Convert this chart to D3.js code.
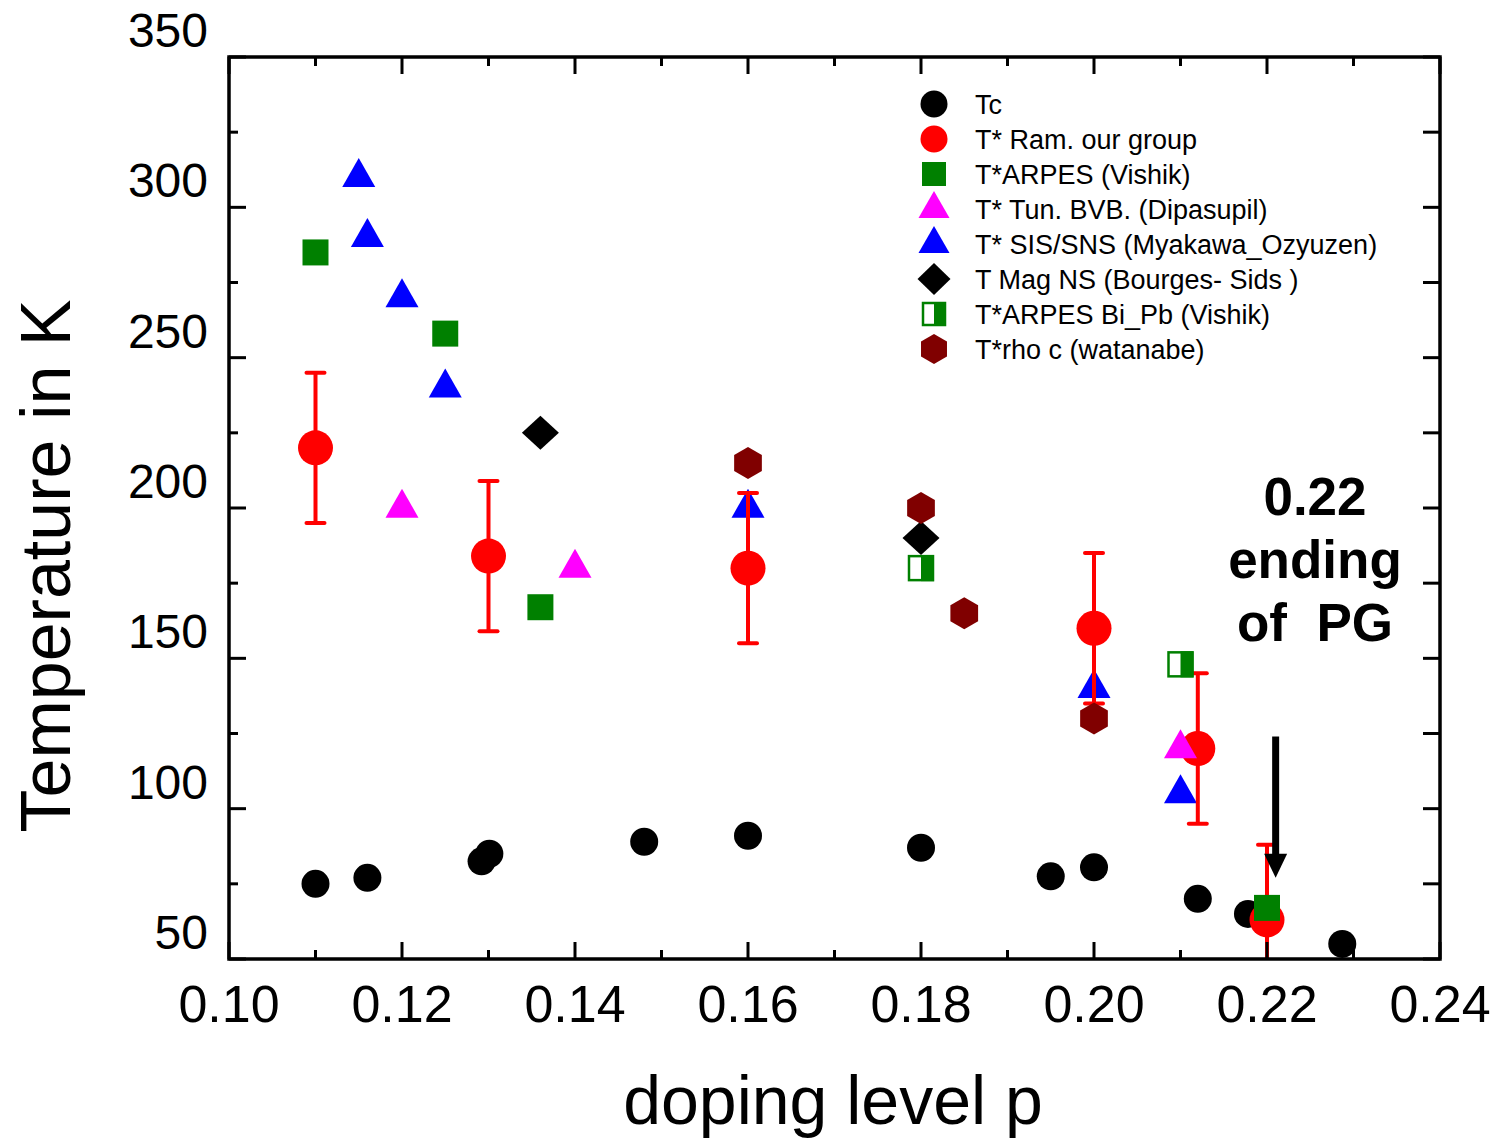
<!DOCTYPE html>
<html><head><meta charset="utf-8">
<script src="https://cdn.jsdelivr.net/npm/d3@7"></script>
<style>html,body{margin:0;padding:0;background:#fff;}svg{display:block;}</style>
</head><body>
<script>
// ---- data ----
const tcP   = [0.11, 0.116, 0.1292, 0.1301, 0.148, 0.16, 0.18, 0.195, 0.20, 0.212, 0.2178, 0.2287];
const tcT   = [75, 77, 82.5, 85, 89, 91, 87, 77.5, 80.5, 70, 65, 55];
const ramP  = [0.11, 0.13, 0.16, 0.20, 0.212, 0.22];
const ramT  = [220, 184, 180, 160, 120, 63];
const ramErr= [25, 25, 25, 25, 25, 25];
const arpesP = [0.11, 0.125, 0.136, 0.22];
const arpesT = [285, 258, 167, 67];
const tunP = [0.12, 0.14, 0.21];
const tunT = [200, 180, 120];
const sisP = [0.115, 0.116, 0.12, 0.125, 0.16, 0.20, 0.21];
const sisT = [310, 290, 270, 240, 200, 140, 105];
const magP = [0.136, 0.18];
const magT = [225, 190];
const biPbP = [0.18, 0.21];
const biPbT = [180, 148];
const rhoP = [0.16, 0.18, 0.185, 0.20];
const rhoT = [215, 200, 165, 130];
const xTickVals = [0.10, 0.12, 0.14, 0.16, 0.18, 0.20, 0.22, 0.24];
const xTickLabels = ["0.10","0.12","0.14","0.16","0.18","0.20","0.22","0.24"];
const yTickVals = [50, 100, 150, 200, 250, 300, 350];
const yTickLabels = ["50","100","150","200","250","300","350"];
const legendLabels = ["Tc","T* Ram. our group","T*ARPES (Vishik)","T* Tun. BVB. (Dipasupil)",
  "T* SIS/SNS (Myakawa_Ozyuzen)","T Mag NS (Bourges- Sids )","T*ARPES Bi_Pb (Vishik)","T*rho c (watanabe)"];
const annotLines = ["0.22","ending","of\u00a0\u00a0PG"];
const arrowP = 0.221, arrowFrom = 124, arrowTo = 77;

// ---- layout ----
const W = 1500, H = 1140;
const L = 229, R = 1440, T = 57, B = 959;
const FONT = "'Liberation Sans', Arial, sans-serif";
const svg = d3.select("body").append("svg").attr("width", W).attr("height", H);
const x = d3.scaleLinear().domain([0.10, 0.24]).range([L, R]);
const y = d3.scaleLinear().domain([50, 350]).range([B, T]);

svg.append("defs").append("clipPath").attr("id","clip")
  .append("rect").attr("x",L).attr("y",T).attr("width",R-L).attr("height",B-T);

// shapes
const shapes = {
  circle: (s)=>`M${-s},0A${s},${s} 0 1,0 ${s},0A${s},${s} 0 1,0 ${-s},0Z`,
  square: (s)=>`M${-s},${-s}H${s}V${s}H${-s}Z`,
  triangle: (w,h)=>`M0,${-2*h/3}L${w/2},${h/3}L${-w/2},${h/3}Z`,
  diamond: (w,h)=>`M0,${-h/2}L${w/2},0L0,${h/2}L${-w/2},0Z`,
  hex: (r)=>{const pts=d3.range(6).map(i=>{const a=Math.PI/3*i - Math.PI/2;return [r*Math.cos(a), r*Math.sin(a)];});return "M"+pts.map(p=>p.join(",")).join("L")+"Z";}
};

const plot = svg.append("g").attr("clip-path","url(#clip)");

function drawSeries(P, Tv, pathStr, fill) {
  const g = plot.append("g");
  P.forEach((p,i)=>{
    g.append("path").attr("d", pathStr)
      .attr("transform", `translate(${x(p)},${y(Tv[i])})`).attr("fill", fill);
  });
  return g;
}
function drawHalf(g, cx, cy, s) {
  g.append("rect").attr("x",cx-s+1).attr("y",cy-s+1).attr("width",2*s-2).attr("height",2*s-2)
    .attr("fill","#fff").attr("stroke","#008000").attr("stroke-width",2.5);
  g.append("rect").attr("x",cx).attr("y",cy-s).attr("width",s).attr("height",2*s).attr("fill","#008000");
}

// Tc
drawSeries(tcP, tcT, shapes.circle(14), "#000");
// Ram circles
drawSeries(ramP, ramT, shapes.circle(17.5), "#ff0000");
// SIS blue triangles
drawSeries(sisP, sisT, shapes.triangle(33,29), "#0000ff");
// Error bars
const eg = plot.append("g").attr("stroke","#ff0000").attr("stroke-width",4).attr("stroke-linecap","round");
ramP.forEach((p,i)=>{
  const cx = x(p), y1 = y(ramT[i]+ramErr[i]), y2 = y(ramT[i]-ramErr[i]);
  eg.append("line").attr("x1",cx).attr("x2",cx).attr("y1",y1).attr("y2",y2).attr("stroke-linecap","butt");
  [y1,y2].forEach(yy=>eg.append("line").attr("x1",cx-9).attr("x2",cx+9).attr("y1",yy).attr("y2",yy));
});
// ARPES green squares
drawSeries(arpesP, arpesT, shapes.square(13), "#008000");
// Tun magenta triangles
drawSeries(tunP, tunT, shapes.triangle(33,29), "#ff00ff");
// Mag NS diamonds
drawSeries(magP, magT, shapes.diamond(37,34), "#000");
// Bi_Pb half squares
const hg = plot.append("g");
biPbP.forEach((p,i)=>drawHalf(hg, x(p), y(biPbT[i]), 13));
// rho c hexagons
drawSeries(rhoP, rhoT, shapes.hex(16), "#800000");

// Arrow
const ax = x(arrowP);
svg.append("line").attr("x1",ax).attr("x2",ax).attr("y1",y(arrowFrom)).attr("y2",y(arrowTo)-22)
  .attr("stroke","#000").attr("stroke-width",7);
svg.append("path").attr("d",`M${ax-11.5},${y(arrowTo)-24}L${ax+11.5},${y(arrowTo)-24}L${ax},${y(arrowTo)}Z`).attr("fill","#000");

// Annotation text
const at = svg.append("text").attr("font-family",FONT).attr("font-weight","bold").attr("font-size",53)
  .attr("text-anchor","middle").attr("fill","#000");
annotLines.forEach((t,i)=>at.append("tspan").attr("x",1315).attr("y",515+63*i).text(t));

// Axes frame
const axG = svg.append("g");
axG.append("rect").attr("x",L).attr("y",T).attr("width",R-L).attr("height",B-T)
  .attr("fill","none").attr("stroke","#000").attr("stroke-width",3.5);

// ticks (inward)
const tickG = axG.append("g").attr("stroke","#000").attr("stroke-width",3);
d3.range(0.10, 0.2401, 0.01).forEach((v,i)=>{
  const major = i%2===0, len = major?17:9, px = x(v);
  tickG.append("line").attr("x1",px).attr("x2",px).attr("y1",B).attr("y2",B-len);
  tickG.append("line").attr("x1",px).attr("x2",px).attr("y1",T).attr("y2",T+len);
});
d3.range(50, 351, 25).forEach((v,i)=>{
  const major = i%2===0, len = major?17:9, py = y(v);
  tickG.append("line").attr("x1",L).attr("x2",L+len).attr("y1",py).attr("y2",py);
  tickG.append("line").attr("x1",R).attr("x2",R-17).attr("y1",py).attr("y2",py);
});

// tick labels
xTickVals.forEach((v,i)=>{
  svg.append("text").attr("x",x(v)).attr("y",1022).attr("text-anchor","middle")
    .attr("font-family",FONT).attr("font-size",52).text(xTickLabels[i]);
});
yTickVals.forEach((v,i)=>{
  svg.append("text").attr("x",208).attr("y",y(v)-10).attr("text-anchor","end")
    .attr("font-family",FONT).attr("font-size",48).text(yTickLabels[i]);
});

// axis titles
svg.append("text").attr("x",833).attr("y",1124).attr("text-anchor","middle")
  .attr("font-family",FONT).attr("font-size",68).text("doping level p");
svg.append("text").attr("transform","translate(70,566) rotate(-90)").attr("text-anchor","middle")
  .attr("font-family",FONT).attr("font-size",70).text("Temperature in K");

// legend
const lg = svg.append("g");
const lx = 934, ly0 = 104, ldy = 35;
const legendDraw = [
  (g)=>g.append("path").attr("d",shapes.circle(13.5)).attr("fill","#000"),
  (g)=>g.append("path").attr("d",shapes.circle(13.5)).attr("fill","#ff0000"),
  (g)=>g.append("path").attr("d",shapes.square(12)).attr("fill","#008000"),
  (g)=>g.append("path").attr("d",shapes.triangle(31,27)).attr("fill","#ff00ff"),
  (g)=>g.append("path").attr("d",shapes.triangle(31,27)).attr("fill","#0000ff"),
  (g)=>g.append("path").attr("d",shapes.diamond(33,32)).attr("fill","#000"),
  (g)=>drawHalf(g,0,0,12),
  (g)=>g.append("path").attr("d",shapes.hex(15)).attr("fill","#800000")
];
legendLabels.forEach((lab,i)=>{
  const g = lg.append("g").attr("transform",`translate(${lx},${ly0+i*ldy})`);
  legendDraw[i](g);
  lg.append("text").attr("x",975).attr("y",ly0+i*ldy+9.5).attr("font-family",FONT)
    .attr("font-size",27).text(lab);
});
</script>
</body></html>
